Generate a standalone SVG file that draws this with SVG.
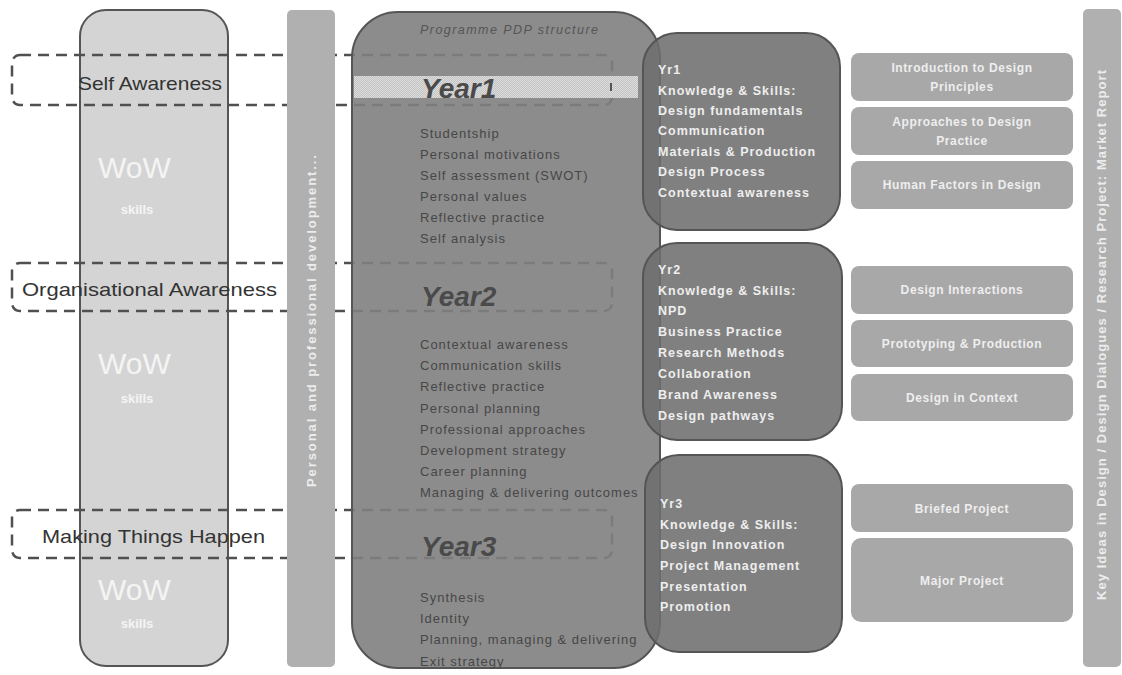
<svg xmlns="http://www.w3.org/2000/svg" width="1122" height="675" viewBox="0 0 1122 675">
<defs>
<pattern id="hatch" width="2" height="2" patternUnits="userSpaceOnUse">
<rect width="2" height="2" fill="#c4c4c4"/>
<rect width="1" height="1" fill="#dcdcdc"/>
<rect x="1" y="1" width="1" height="1" fill="#dcdcdc"/>
</pattern>
</defs>
<style>
.band{fill:none;stroke:#505050;stroke-width:2.5;stroke-dasharray:11 7}
.bandtxt{font-family:"Liberation Sans",Arial,sans-serif;font-size:19px;fill:#333}
.wow{font-family:"Liberation Sans",Arial,sans-serif;font-size:30px;fill:#f4f4f4}
.skills{font-family:"Liberation Sans",Arial,sans-serif;font-size:13px;font-weight:bold;fill:#f4f4f4;text-anchor:middle}
.vbar{fill:#b0b0b0}
.vtxt{font-family:"Liberation Sans",Arial,sans-serif;font-size:13px;font-weight:bold;fill:#ececec}
.year{font-family:"Liberation Sans",Arial,sans-serif;font-size:28px;font-weight:bold;font-style:italic;fill:#4a4a4a}
.item{font-family:"Liberation Sans",Arial,sans-serif;font-size:13px;fill:#474747;letter-spacing:1px}
.ks{fill:#6e6e6e;fill-opacity:0.88;stroke:#555;stroke-width:2}
.kstxt{font-family:"Liberation Sans",Arial,sans-serif;font-size:12.5px;font-weight:bold;fill:#eeeeee;letter-spacing:1px}
.mod{fill:#a8a8a8}
.modtxt{font-family:"Liberation Sans",Arial,sans-serif;font-size:12px;font-weight:bold;fill:#eeeeee;text-anchor:middle;letter-spacing:0.6px}
</style>

<g id="wow-column">
<rect x="80" y="10" width="148" height="656" rx="26" fill="#d4d4d4" stroke="#555" stroke-width="2"/>
<text class="wow" x="98" y="178">WoW</text>
<text class="skills" x="137" y="214">skills</text>
<text class="wow" x="98" y="374">WoW</text>
<text class="skills" x="137" y="403">skills</text>
<text class="wow" x="98" y="600">WoW</text>
<text class="skills" x="137" y="628">skills</text>
</g>

<g id="band-self">
<rect class="band" x="12" y="55" width="600" height="50" rx="8"/>
<text class="bandtxt" x="78" y="90" textLength="144" lengthAdjust="spacingAndGlyphs">Self Awareness</text>
</g>
<g id="band-org">
<rect class="band" x="12" y="263" width="600" height="48" rx="8"/>
<text class="bandtxt" x="22" y="296" textLength="255" lengthAdjust="spacingAndGlyphs">Organisational Awareness</text>
</g>
<g id="band-mth">
<rect class="band" x="12" y="510" width="600" height="48" rx="8"/>
<text class="bandtxt" x="42" y="543" textLength="223" lengthAdjust="spacingAndGlyphs">Making Things Happen</text>
</g>

<g id="ppd-bar">
<rect class="vbar" x="287" y="10" width="48" height="657" rx="5"/>
<text class="vtxt" transform="translate(316,321) rotate(-90)" text-anchor="middle" textLength="332" lengthAdjust="spacing">Personal and professional development...</text>
</g>

<g id="pdp-structure">
<rect x="352" y="12" width="308" height="656" rx="46" fill="#808080" fill-opacity="0.9" stroke="#555" stroke-width="2"/>
<rect x="354" y="76" width="284" height="22" fill="url(#hatch)"/>
<rect x="610" y="83" width="2" height="8" fill="#555"/>
<text x="420" y="34" font-family="Liberation Sans, Arial, sans-serif" font-size="12.5" font-style="italic" fill="#555" textLength="178" lengthAdjust="spacing">Programme PDP structure</text>
<text class="year" x="421" y="98">Year1</text>
<text class="item" x="420" y="138">Studentship</text>
<text class="item" x="420" y="159">Personal motivations</text>
<text class="item" x="420" y="180">Self assessment (SWOT)</text>
<text class="item" x="420" y="201">Personal values</text>
<text class="item" x="420" y="222">Reflective practice</text>
<text class="item" x="420" y="243">Self analysis</text>
<text class="year" x="421" y="306">Year2</text>
<text class="item" x="420" y="349">Contextual awareness</text>
<text class="item" x="420" y="370">Communication skills</text>
<text class="item" x="420" y="391">Reflective practice</text>
<text class="item" x="420" y="413">Personal planning</text>
<text class="item" x="420" y="434">Professional approaches</text>
<text class="item" x="420" y="455">Development strategy</text>
<text class="item" x="420" y="476">Career planning</text>
<text class="item" x="420" y="497">Managing &amp; delivering outcomes</text>
<text class="year" x="421" y="556">Year3</text>
<text class="item" x="420" y="602">Synthesis</text>
<text class="item" x="420" y="623">Identity</text>
<text class="item" x="420" y="644">Planning, managing &amp; delivering</text>
<text class="item" x="420" y="666">Exit strategy</text>
</g>

<g id="yr1">
<rect class="ks" x="643" y="33" width="197" height="197" rx="34"/>
<text class="kstxt" x="658" y="74">Yr1</text>
<text class="kstxt" x="658" y="95">Knowledge &amp; Skills:</text>
<text class="kstxt" x="658" y="115">Design fundamentals</text>
<text class="kstxt" x="658" y="135">Communication</text>
<text class="kstxt" x="658" y="156">Materials &amp; Production</text>
<text class="kstxt" x="658" y="176">Design Process</text>
<text class="kstxt" x="658" y="197">Contextual awareness</text>
</g>
<g id="yr2">
<rect class="ks" x="643" y="243" width="199" height="197" rx="34"/>
<text class="kstxt" x="658" y="274">Yr2</text>
<text class="kstxt" x="658" y="295">Knowledge &amp; Skills:</text>
<text class="kstxt" x="658" y="315">NPD</text>
<text class="kstxt" x="658" y="336">Business Practice</text>
<text class="kstxt" x="658" y="357">Research Methods</text>
<text class="kstxt" x="658" y="378">Collaboration</text>
<text class="kstxt" x="658" y="399">Brand Awareness</text>
<text class="kstxt" x="658" y="420">Design pathways</text>
</g>
<g id="yr3">
<rect class="ks" x="645" y="455" width="197" height="197" rx="34"/>
<text class="kstxt" x="660" y="508">Yr3</text>
<text class="kstxt" x="660" y="529">Knowledge &amp; Skills:</text>
<text class="kstxt" x="660" y="549">Design Innovation</text>
<text class="kstxt" x="660" y="570">Project Management</text>
<text class="kstxt" x="660" y="591">Presentation</text>
<text class="kstxt" x="660" y="611">Promotion</text>
</g>

<g id="mod-intro"><rect class="mod" x="851" y="53" width="222" height="48" rx="8"/><text class="modtxt" x="962" y="72">Introduction to Design</text><text class="modtxt" x="962" y="91">Principles</text></g>
<g id="mod-approaches"><rect class="mod" x="851" y="107" width="222" height="48" rx="8"/><text class="modtxt" x="962" y="126">Approaches to Design</text><text class="modtxt" x="962" y="145">Practice</text></g>
<g id="mod-human"><rect class="mod" x="851" y="161" width="222" height="48" rx="8"/><text class="modtxt" x="962" y="189">Human Factors in Design</text></g>
<g id="mod-interactions"><rect class="mod" x="851" y="266" width="222" height="48" rx="8"/><text class="modtxt" x="962" y="294">Design Interactions</text></g>
<g id="mod-prototyping"><rect class="mod" x="851" y="320" width="222" height="47" rx="8"/><text class="modtxt" x="962" y="348">Prototyping &amp; Production</text></g>
<g id="mod-context"><rect class="mod" x="851" y="374" width="222" height="47" rx="8"/><text class="modtxt" x="962" y="402">Design in Context</text></g>
<g id="mod-briefed"><rect class="mod" x="851" y="484" width="222" height="48" rx="8"/><text class="modtxt" x="962" y="513">Briefed Project</text></g>
<g id="mod-major"><rect class="mod" x="851" y="538" width="222" height="84" rx="10"/><text class="modtxt" x="962" y="585">Major Project</text></g>

<g id="key-bar">
<rect class="vbar" x="1083" y="9" width="38" height="658" rx="5"/>
<text class="vtxt" transform="translate(1106,335) rotate(-90)" text-anchor="middle" textLength="530" lengthAdjust="spacing">Key Ideas in Design / Design Dialogues / Research Project: Market Report</text>
</g>

<g id="connectors"/>
</svg>
